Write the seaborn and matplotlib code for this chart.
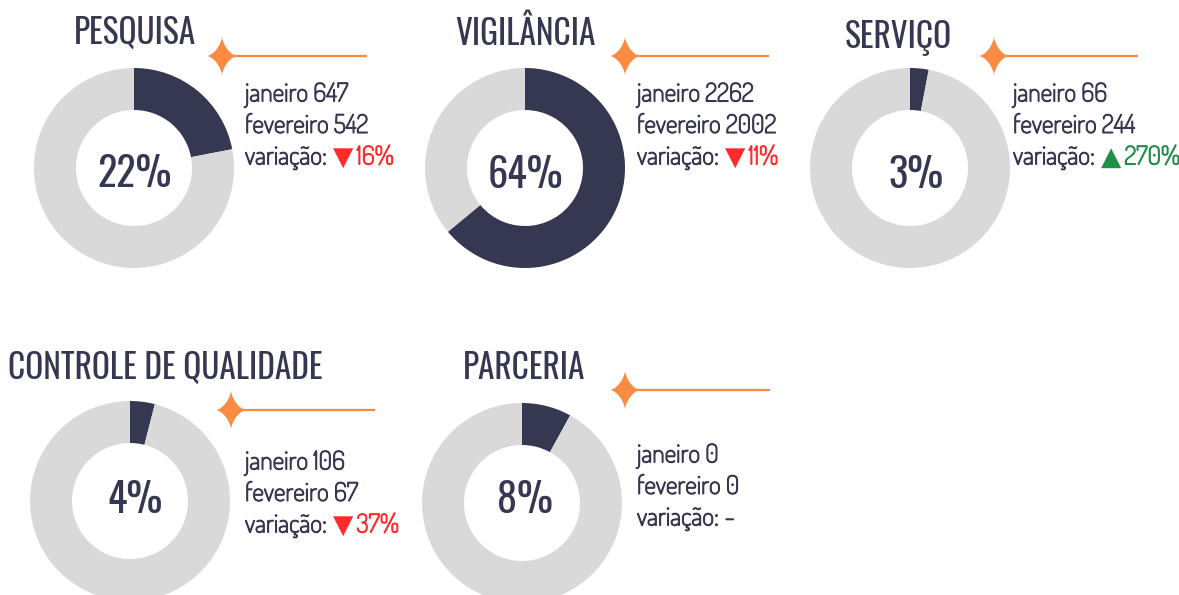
import numpy as np
import matplotlib
matplotlib.use("Agg")
import matplotlib.pyplot as plt
import matplotlib.patheffects as pe
import seaborn as sns
from matplotlib import font_manager

# ---------------- data ----------------
titles = ["PESQUISA", "VIGILÂNCIA", "SERVIÇO", "CONTROLE DE QUALIDADE", "PARCERIA"]
share_pct = [22, 64, 3, 4, 8]
jan_values = [647, 2262, 66, 106, 0]
feb_values = [542, 2002, 244, 67, 0]
variation_pct = [-16, -11, 270, -37, None]

# ---------------- layout (pixels) ----------------
W, H = 1179, 595
donut_centers = [(134, 168), (525, 168), (910, 168), (130, 501), (522, 503)]
R = 100
pct_label_pos = [(135, 174), (525, 175), (916, 175), (135, 500), (525, 500)]
title_pos = [(135, 33), (525, 33), (898, 37), (165, 368), (524, 368)]
star_pos = [(222, 56), (625, 56), (994, 56), (231, 410), (625, 390)]
line_end = [367, 769, 1138, 375, 770]
text_pos = [(245, 95), (637, 95), (1013, 95), (245, 463), (637, 456)]
line_gap = 31.5

DARK = "#363851"
GREY = "#d9d9d9"
ORANGE = "#f98c40"
RED = "#ff2b2b"
GREEN = "#1f8e48"

sns.set_theme(style="white")

available = {f.name for f in font_manager.fontManager.ttflist}


def pick(cands, default="DejaVu Sans"):
    for c in cands:
        if c in available:
            return c
    return default


cond_font = pick(["Oswald", "Roboto Condensed", "Open Sans Condensed",
                  "Liberation Sans Narrow", "DejaVu Sans"])
body_font = pick(["Dosis", "Lato", "Open Sans"])
plt.rcParams["font.family"] = [body_font, "DejaVu Sans"]

BODY_SIZE = 18.5


def stroke(col, w=0.8):
    return [pe.withStroke(linewidth=w, foreground=col)]


fig = plt.figure(figsize=(W / 100, H / 100), dpi=100)
fig.patch.set_facecolor("white")

# donuts
for (cx, cy), s in zip(donut_centers, share_pct):
    ax = fig.add_axes([(cx - R) / W, 1 - (cy + R) / H, 2 * R / W, 2 * R / H])
    ax.pie([s, 100 - s], colors=[DARK, GREY], startangle=90, counterclock=False,
           radius=1, wedgeprops=dict(width=0.42, linewidth=0, edgecolor="none"))
    ax.set_xlim(-1, 1)
    ax.set_ylim(-1, 1)
    ax.axis("off")

# overlay in pixel coordinates
ov = fig.add_axes([0, 0, 1, 1], zorder=5)
ov.set_xlim(0, W)
ov.set_ylim(H, 0)
ov.axis("off")
ov.patch.set_alpha(0)

t = np.linspace(0, 2 * np.pi, 400)
q = 3.0
sx = np.sign(np.cos(t)) * np.abs(np.cos(t)) ** q
sy = np.sign(np.sin(t)) * np.abs(np.sin(t)) ** q

for i, title in enumerate(titles):
    tx, ty = title_pos[i]
    ov.text(tx, ty, title, ha="center", va="center", fontsize=24,
            family=cond_font, color=DARK)
    px, py = pct_label_pos[i]
    ov.text(px, py, f"{share_pct[i]}%", ha="center", va="center", fontsize=29,
            family=cond_font, color=DARK)
    # star + line
    stx, sty = star_pos[i]
    ov.plot([stx, line_end[i]], [sty, sty], color=ORANGE, lw=1.6,
            solid_capstyle="butt")
    ov.fill(stx + 15 * sx, sty + 19.5 * sy, color=ORANGE, lw=0)
    # text block
    bx, by = text_pos[i]
    ov.text(bx, by, f"janeiro {jan_values[i]}", ha="left", va="center",
            fontsize=BODY_SIZE, color=DARK, path_effects=stroke(DARK))
    ov.text(bx, by + line_gap, f"fevereiro {feb_values[i]}", ha="left",
            va="center", fontsize=BODY_SIZE, color=DARK,
            path_effects=stroke(DARK))
    t1 = ov.text(bx, by + 2 * line_gap, "variação:", ha="left", va="center",
                 fontsize=BODY_SIZE, color=DARK, path_effects=stroke(DARK))
    v = variation_pct[i]
    if v is None:
        ov.annotate("-", xy=(1, 0.5), xycoords=t1, xytext=(4, 0),
                    textcoords="offset points", ha="left", va="center",
                    fontsize=BODY_SIZE, color=DARK, path_effects=stroke(DARK))
    else:
        col = GREEN if v > 0 else RED
        sym = "▲" if v > 0 else "▼"
        t2 = ov.annotate(sym, xy=(1, 0.5), xycoords=t1, xytext=(4, 0),
                         textcoords="offset points", ha="left", va="center",
                         fontsize=19, color=col, family="DejaVu Sans")
        ov.annotate(f"{abs(v)}%", xy=(1, 0.5), xycoords=t2, xytext=(2.5, 0),
                    textcoords="offset points", ha="left", va="center",
                    fontsize=BODY_SIZE, color=col, path_effects=stroke(col))

fig.savefig("out.png", dpi=100, facecolor="white")
